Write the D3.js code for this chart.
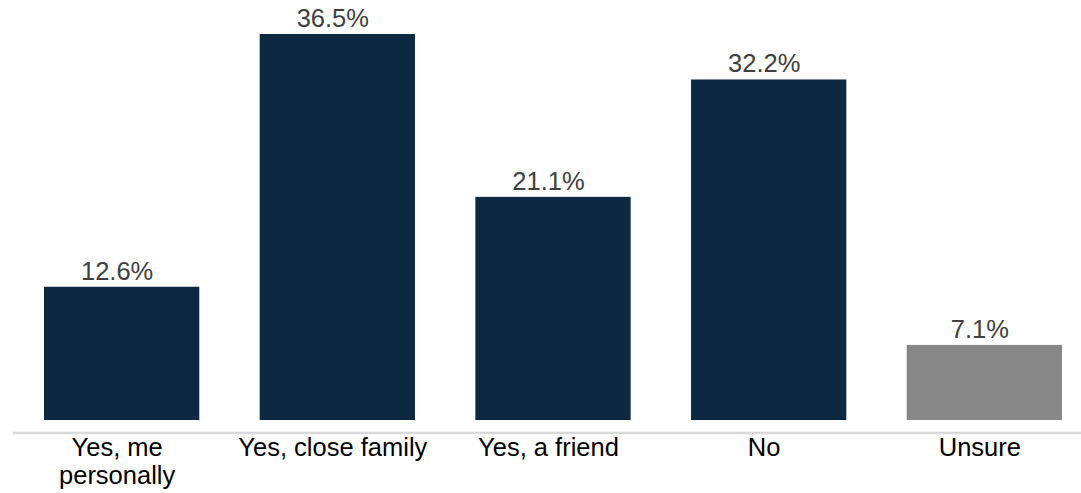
<!DOCTYPE html>
<html><head><meta charset="utf-8">
<script src="https://cdn.jsdelivr.net/npm/d3@7"></script>
<style>html,body{margin:0;padding:0;background:#fff;}svg{display:block;}</style>
</head><body>
<svg id="chart" width="1081" height="493"></svg>
<script>
const categories = ["Yes, me personally", "Yes, close family", "Yes, a friend", "No", "Unsure"];
const categoryLines = [["Yes, me", "personally"], ["Yes, close family"], ["Yes, a friend"], ["No"], ["Unsure"]];
const values = [12.6, 36.5, 21.1, 32.2, 7.1];
const valueLabels = ["12.6%", "36.5%", "21.1%", "32.2%", "7.1%"];
const colors = ["#0E2841", "#0E2841", "#0E2841", "#0E2841", "#878787"];

const svg = d3.select("#chart");
const font = "'Liberation Sans', Arial, sans-serif";
const textShift = -4.5;

const x = d3.scaleBand().domain(categories).range([44, 1062]).paddingInner(0.28).paddingOuter(0);
const y = d3.scaleLinear().domain([0, 36.5]).range([420, 34]);

svg.append("g").selectAll("rect").data(values).join("rect")
  .attr("x", (d, i) => x(categories[i]))
  .attr("y", d => y(d))
  .attr("width", x.bandwidth())
  .attr("height", d => y(0) - y(d))
  .attr("fill", (d, i) => colors[i]);

svg.append("g").selectAll("text").data(values).join("text")
  .attr("x", (d, i) => x(categories[i]) + x.bandwidth() / 2 + textShift)
  .attr("y", d => y(d) - 7)
  .attr("text-anchor", "middle")
  .attr("font-family", font)
  .attr("font-size", 25.5)
  .attr("fill", "#404040")
  .text((d, i) => valueLabels[i]);

svg.append("line")
  .attr("x1", 13).attr("x2", 1081)
  .attr("y1", 433).attr("y2", 433)
  .attr("stroke", "#d9d9d9").attr("stroke-width", 2.5);

const xl = svg.append("g").selectAll("text").data(categories).join("text")
  .attr("x", d => x(d) + x.bandwidth() / 2 + textShift)
  .attr("y", 456)
  .attr("text-anchor", "middle")
  .attr("font-family", font)
  .attr("font-size", 25.5)
  .attr("fill", "#000");
xl.each(function(d, i) {
  const t = d3.select(this);
  categoryLines[i].forEach((line, j) => {
    t.append("tspan").attr("x", x(d) + x.bandwidth() / 2 + textShift).attr("dy", j === 0 ? 0 : 28).text(line);
  });
});
</script>
</body></html>
